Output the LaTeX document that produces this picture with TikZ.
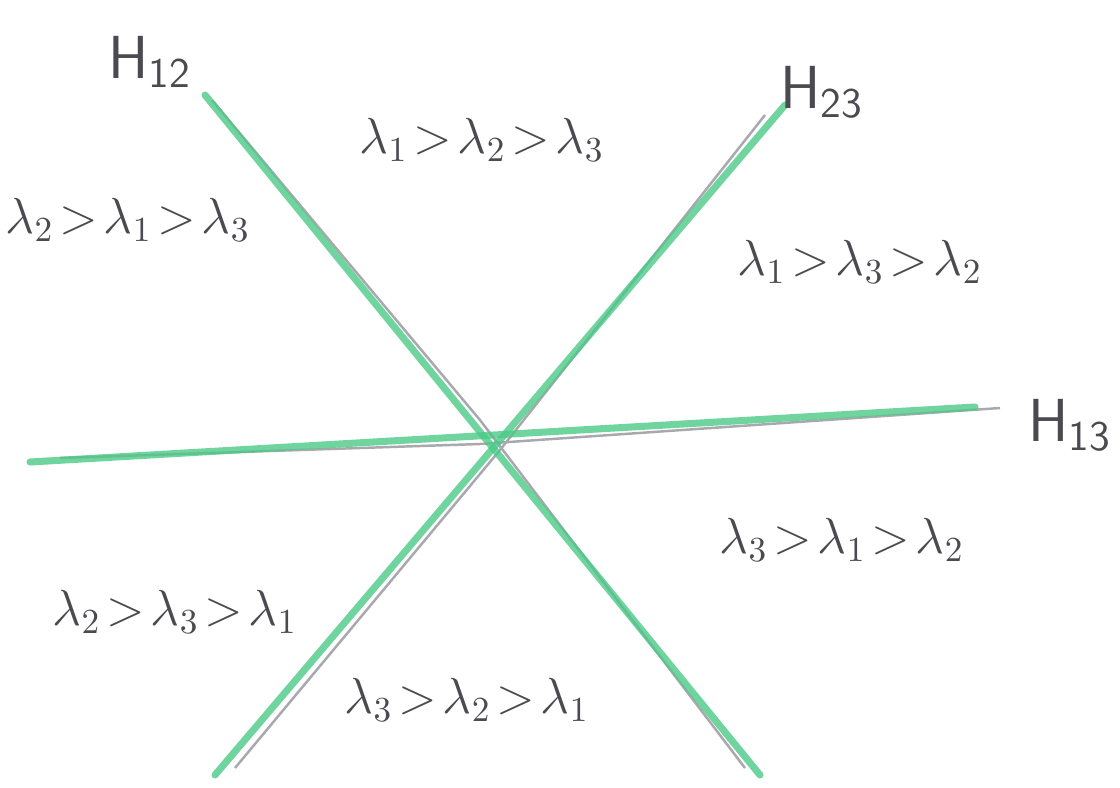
\documentclass[tikz,border=0pt]{standalone}
\usepackage{amsmath,amssymb}
\usetikzlibrary{positioning}
\definecolor{WallGreen}{HTML}{4CC987}
\definecolor{PencilGrey}{HTML}{A8A8AE}
\definecolor{LabelInk}{HTML}{4A4A50}
\newcommand{\gtr}{\mskip2mu{>}\mskip2mu}

\begin{document}
\begin{tikzpicture}[
            x=0.01cm,y=-0.01cm,
            wall/.style={draw=WallGreen,line width=2pt,opacity=0.8,line cap=round},
            pencil/.style={draw=PencilGrey,line width=0.7pt},
            region/.style={text=LabelInk,font=\Large},
            hname/.style={text=LabelInk,font=\LARGE\sffamily}
          ]
          \useasboundingbox (0,0) rectangle (1120,787);
          % end points of the three walls
          \coordinate (a12) at (205,95);
          \coordinate (b12) at (760,775);
          \coordinate (a23) at (785,105);
          \coordinate (b23) at (215,775);
          \coordinate (a13) at (30,462);
          \coordinate (b13) at (975,407);
          \coordinate (g12) at (212,100);
          \coordinate (h12) at (745,768);
          \coordinate (g23) at (765,115);
          \coordinate (h23) at (235,768);
          \coordinate (g13) at (60,458);
          \coordinate (h13) at (1000,408);
          % pencil guide lines
          \draw[pencil] (g12) -- (480,420) -- (h12);
          \draw[pencil] (g23) -- (500,450) -- (h23);
          \draw[pencil] (g13) -- (480,444) -- (h13);
          % coloured walls
          \draw[wall] (a12) -- (b12);
          \draw[wall] (a23) -- (b23);
          \draw[wall] (a13) -- (b13);
          % wall names
          \node[hname] (n12) at (150,62) {H$_{\text{12}}$};
          \node[hname] (n23) at (822,92) {H$_{\text{23}}$};
          \node[hname] (n13) at (1070,425) {H$_{\text{13}}$};
          % chambers
          \node[region] (r123) at (482,140) {$\lambda_1\gtr\lambda_2\gtr\lambda_3$};
          \node[region] (r213) at (128,220) {$\lambda_2\gtr\lambda_1\gtr\lambda_3$};
          \node[region] (r132) at (860,262) {$\lambda_1\gtr\lambda_3\gtr\lambda_2$};
          \node[region] (r312) at (842,540) {$\lambda_3\gtr\lambda_1\gtr\lambda_2$};
          \node[region] (r231) at (175,612) {$\lambda_2\gtr\lambda_3\gtr\lambda_1$};
          \node[region] (r321) at (467,700) {$\lambda_3\gtr\lambda_2\gtr\lambda_1$};
        \end{tikzpicture}
\end{document}
